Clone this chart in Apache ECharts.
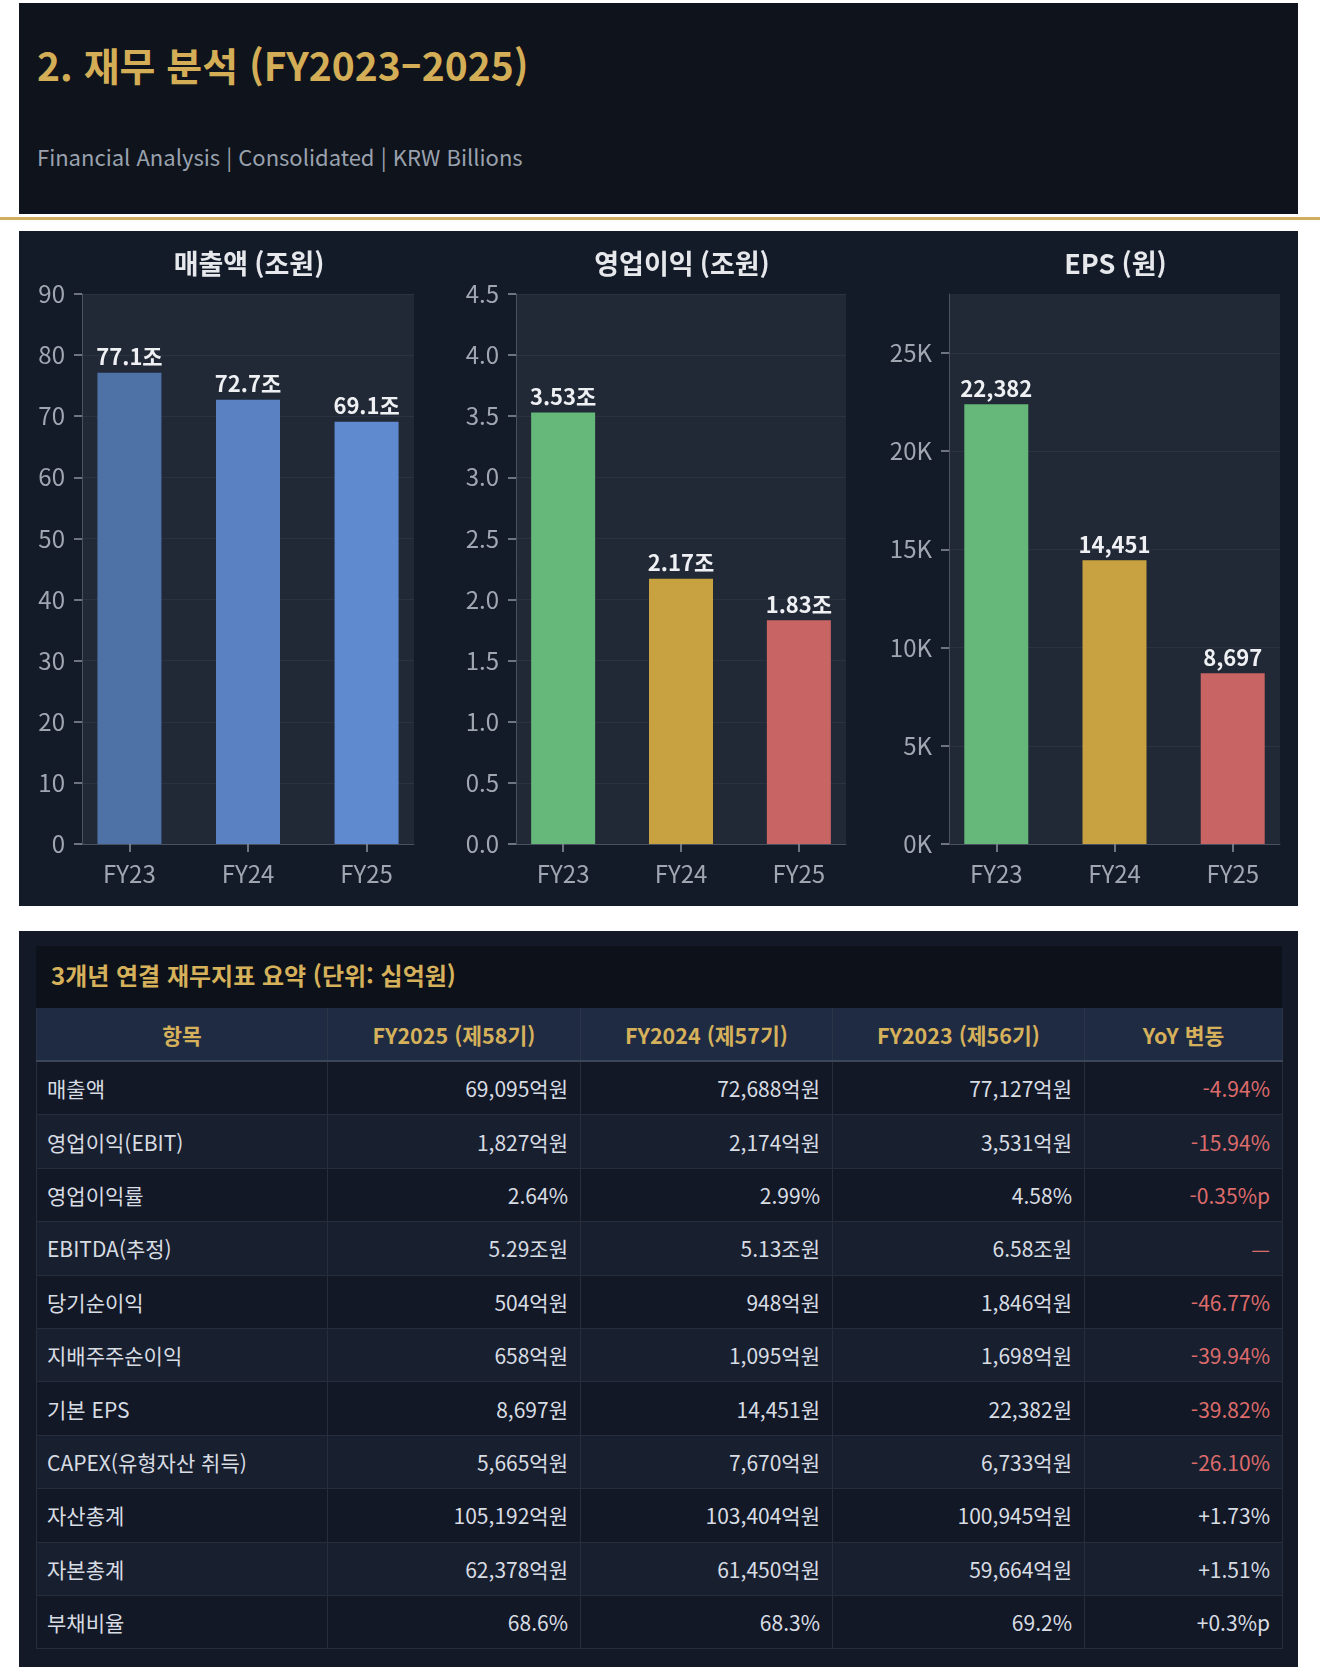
<!DOCTYPE html>
<html lang="ko">
<head>
<meta charset="utf-8">
<title>재무 분석</title>
<script src="https://cdn.jsdelivr.net/npm/echarts@6/dist/echarts.min.js"></script>
<style>
    body {
        margin: 0;
        width: 1320px;
        height: 1677px;
        background: #ffffff;
        position: relative;
        font-family: "Noto Sans CJK KR", "Noto Sans", sans-serif;
    }
    #header {
        position: absolute; left: 19px; top: 3px; width: 1279px; height: 211px;
        background: #0f131c;
    }
    #header .title {
        position: absolute; left: 18px; top: 36px; margin: 0;
        font-size: 39px; line-height: 50px; font-weight: 700; color: #d4ae56;
    }
    #header .sub {
        position: absolute; left: 18px; top: 138px;
        font-size: 22px; line-height: 30px; color: #9aa2ae;
    }
    #goldLine {
        position: absolute; left: 0; top: 217px; width: 1320px; height: 3px;
        background: #cfae5f;
    }
    #div_chart {
        position: absolute; left: 19px; top: 231px; width: 1279px; height: 675px;
        background: #131a28;
    }
    #tablePanel {
        position: absolute; left: 19px; top: 931px; width: 1279px; height: 736px;
        background: #131927;
    }
    #tableWrap {
        position: absolute; left: 17px; top: 15px; width: 1246px;
    }
    #tableWrap .caption {
        height: 62px; line-height: 58px; padding-left: 15px;
        background: #0d1119; color: #d6b15b; font-size: 24px; font-weight: 700;
    }
    #tb_summary {
        border-collapse: collapse; width: 1246px; table-layout: fixed;
    }
    #tb_summary th {
        height: 52px; background: #1f2b42; color: #d6b15b;
        font-size: 21.5px; font-weight: 700; text-align: center;
        border-left: 1px solid #2a3446; border-right: 1px solid #2a3446;
        border-bottom: 2px solid #3b4659; padding: 0;
    }
    #tb_summary td {
        height: 52.4px; font-size: 21px; color: #d8dce3; padding: 0 12px 0 10px;
        border: 1px solid #262e3e; text-align: right; white-space: nowrap;
    }
    #tb_summary td.item { text-align: left; }
    #tb_summary tr.odd td { background: #121826; }
    #tb_summary tr.even td { background: #182030; }
    #tb_summary td.neg { color: #dc6b6b; }
</style>
</head>
<body>
<div id="header">
    <div class="title">2. 재무 분석 (FY2023–2025)</div>
    <div class="sub">Financial Analysis | Consolidated | KRW Billions</div>
</div>
<div id="goldLine"></div>
<div id="div_chart"></div>
<div id="tablePanel">
    <div id="tableWrap">
        <div class="caption">3개년 연결 재무지표 요약 (단위: 십억원)</div>
        <table id="tb_summary">
            <colgroup>
                <col style="width:291px"><col style="width:253px"><col style="width:252px"><col style="width:252px"><col style="width:198px">
            </colgroup>
            <thead><tr id="tb_head"></tr></thead>
            <tbody id="tb_body"></tbody>
        </table>
    </div>
</div>
<script>
// 차트 데이터
var categories = ['FY23', 'FY24', 'FY25'];
var revenue = [77.1, 72.7, 69.1];      // 매출액 (조원)
var opIncome = [3.53, 2.17, 1.83];     // 영업이익 (조원)
var eps = [22382, 14451, 8697];        // EPS (원)
var chartTitles = ['매출액 (조원)', '영업이익 (조원)', 'EPS (원)'];
var epsTicks = [0, 5000, 10000, 15000, 20000, 25000];
var categoryTicks = [0, 1, 2];

// 표 데이터
var tableHeaders = ['항목', 'FY2025 (제58기)', 'FY2024 (제57기)', 'FY2023 (제56기)', 'YoY 변동'];
var tableItems = ['매출액', '영업이익(EBIT)', '영업이익률', 'EBITDA(추정)', '당기순이익', '지배주주순이익',
    '기본 EPS', 'CAPEX(유형자산 취득)', '자산총계', '자본총계', '부채비율'];
var fy2025Col = ['69,095억원', '1,827억원', '2.64%', '5.29조원', '504억원', '658억원',
    '8,697원', '5,665억원', '105,192억원', '62,378억원', '68.6%'];
var fy2024Col = ['72,688억원', '2,174억원', '2.99%', '5.13조원', '948억원', '1,095억원',
    '14,451원', '7,670억원', '103,404억원', '61,450억원', '68.3%'];
var fy2023Col = ['77,127억원', '3,531억원', '4.58%', '6.58조원', '1,846억원', '1,698억원',
    '22,382원', '6,733억원', '100,945억원', '59,664억원', '69.2%'];
var yoyCol = ['-4.94%', '-15.94%', '-0.35%p', '—', '-46.77%', '-39.94%',
    '-39.82%', '-26.10%', '+1.73%', '+1.51%', '+0.3%p'];

// 색상
var blueColors = ['#4e71a6', '#5a82c2', '#5f8acf'];
var trafficColors = ['#65b879', '#c8a241', '#c96464'];

function renderTable() {
    var head = document.getElementById('tb_head');
    tableHeaders.forEach(function (h) {
        var th = document.createElement('th');
        th.textContent = h;
        head.appendChild(th);
    });
    var body = document.getElementById('tb_body');
    for (var i = 0; i < tableItems.length; i++) {
        var tr = document.createElement('tr');
        tr.className = (i % 2 == 0) ? 'odd' : 'even';
        var cells = [tableItems[i], fy2025Col[i], fy2024Col[i], fy2023Col[i], yoyCol[i]];
        cells.forEach(function (v, j) {
            var td = document.createElement('td');
            td.textContent = v;
            if (j == 0) td.className = 'item';
            if (j == 4 && (v.charAt(0) == '-' || v == '—')) td.className = 'neg';
            tr.appendChild(td);
        });
        body.appendChild(tr);
    }
}

function renderChart() {
    var myChart = echarts.init(document.getElementById('div_chart'));
    var font = '"Noto Sans CJK KR", "Noto Sans", sans-serif';
    var grids = [
        {left: 63, top: 63, width: 332, height: 550},
        {left: 497, top: 63, width: 330, height: 550},
        {left: 930, top: 63, width: 331, height: 550}
    ];
    var axisLineStyle = {show: true, onZero: false, lineStyle: {color: '#4a5261', width: 1}};
    var labelStyle = {color: '#a0a7b1', fontSize: 24, fontFamily: font};

    var xAxes = [], yAxes = [], titles = [], series = [];
    var yConf = [
        {max: 90, interval: 10, fmt: function (v) { return v; }},
        {max: 4.5, interval: 0.5, fmt: function (v) { return v.toFixed(1); }},
        {max: 28000, interval: 5000, fmt: function (v) { return (v / 1000) + 'K'; }}
    ];
    var seriesData = [revenue, opIncome, eps];
    var seriesColors = [blueColors, trafficColors, trafficColors];
    var labelFmt = [
        function (p) { return p.value[1].toFixed(1) + '조'; },
        function (p) { return p.value[1].toFixed(2) + '조'; },
        function (p) { return p.value[1].toLocaleString('en-US'); }
    ];

    for (var i = 0; i < 3; i++) {
        titles.push({
            text: chartTitles[i],
            left: grids[i].left + grids[i].width / 2 - 4,
            top: 14,
            textAlign: 'center',
            textStyle: {color: '#e6e8ec', fontSize: 27, fontWeight: 'bold', fontFamily: font}
        });
        // 막대 위치: 범주 축 범위 [-0.4, 2.4]
        xAxes.push({
            type: 'value',
            gridIndex: i,
            min: -0.4,
            max: 2.4,
            splitLine: {show: false},
            axisLine: axisLineStyle,
            axisTick: {show: true, length: 8, customValues: categoryTicks,
                lineStyle: {color: '#8d949e', width: 1.5}},
            axisLabel: Object.assign({
                margin: 18,
                customValues: categoryTicks,
                formatter: function (v) { return categories[Math.round(v)]; }
            }, labelStyle)
        });
        var yAxis = {
            type: 'value',
            gridIndex: i,
            min: 0,
            max: yConf[i].max,
            interval: yConf[i].interval,
            axisLine: axisLineStyle,
            axisTick: {show: true, length: 8, lineStyle: {color: '#8d949e', width: 1.5}},
            axisLabel: Object.assign({margin: 17, formatter: yConf[i].fmt}, labelStyle),
            splitLine: {show: true, lineStyle: {color: '#2b3342', width: 1}}
        };
        if (i == 2) {
            yAxis.axisTick.customValues = epsTicks;
            yAxis.axisLabel.customValues = epsTicks;
        }
        yAxes.push(yAxis);
        series.push({
            type: 'bar',
            xAxisIndex: i,
            yAxisIndex: i,
            barWidth: 64,
            data: seriesData[i].map(function (v, k) {
                return {value: [k, v], itemStyle: {color: seriesColors[i][k]}};
            }),
            label: {
                show: true,
                position: 'top',
                distance: 5,
                formatter: labelFmt[i],
                color: '#eef0f3',
                fontSize: 22,
                fontWeight: 'bold',
                fontFamily: font
            }
        });
    }

    var option = {
        backgroundColor: '#131a28',
        animation: false,
        title: titles,
        grid: grids.map(function (g) {
            return Object.assign({show: true, backgroundColor: '#212836', borderWidth: 0}, g);
        }),
        xAxis: xAxes,
        yAxis: yAxes,
        series: series
    };
    myChart.setOption(option);
}

renderTable();
renderChart();
</script>
</body>
</html>
